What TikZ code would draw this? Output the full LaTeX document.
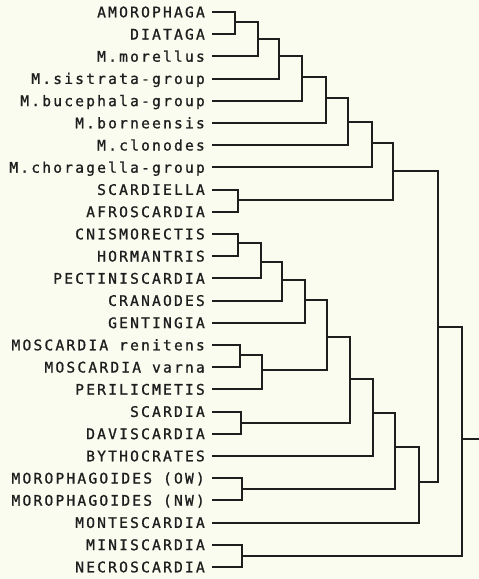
\documentclass[tikz,border=0pt]{standalone}
\usepackage{fontspec}
\newfontfamily\labfont[LetterSpace=15,FakeBold=1]{DejaVu Sans Mono}
\definecolor{bg}{RGB}{250,252,240}
\definecolor{ink}{RGB}{30,30,30}
\begin{document}
\begin{tikzpicture}[x=1pt,y=-1pt,
  lab/.style={anchor=east,inner sep=0pt,text=ink,font=\labfont\fontsize{14.6}{15}\selectfont,text height=10.6pt,text depth=0pt},
  branch/.style={draw=ink,line width=2pt,line join=miter}]
\fill[bg] (0,0) rectangle (479,579);
\useasboundingbox (0,0) rectangle (479,579);
\foreach \n [count=\i from 0] in {
 AMOROPHAGA,DIATAGA,M.morellus,M.sistrata-group,M.bucephala-group,M.borneensis,M.clonodes,M.choragella-group,SCARDIELLA,AFROSCARDIA,CNISMORECTIS,HORMANTRIS,PECTINISCARDIA,CRANAODES,GENTINGIA,MOSCARDIA renitens,MOSCARDIA varna,PERILICMETIS,SCARDIA,DAVISCARDIA,BYTHOCRATES,MOROPHAGOIDES (OW),MOROPHAGOIDES (NW),MONTESCARDIA,MINISCARDIA,NECROSCARDIA}{
  \pgfmathsetmacro\yy{12+22.2*\i}
  \node[lab] (n\i) at (205,\yy) {\n};
  \coordinate (L\i) at (212,\yy);
}
% internal nodes
\coordinate (A) at (235,22);
\coordinate (B) at (258,39);
\coordinate (C) at (279,56);
\coordinate (D) at (302,77);
\coordinate (E) at (326,98);
\coordinate (F) at (348,122);
\coordinate (G) at (372,143);
\coordinate (H) at (238,200);
\coordinate (I) at (393,171);
\coordinate (J) at (238,243);
\coordinate (K) at (261,262);
\coordinate (M) at (282,280);
\coordinate (N) at (305,300);
\coordinate (O) at (240,355);
\coordinate (P) at (262,370);
\coordinate (Q) at (327,337);
\coordinate (R) at (241,423);
\coordinate (S) at (350,379);
\coordinate (T) at (373,413);
\coordinate (U) at (242,489);
\coordinate (V) at (395,447);
\coordinate (W) at (419,482);
\coordinate (X) at (438,327);
\coordinate (Y) at (242,556);
\coordinate (Z) at (462,439);
\coordinate (end) at (479,439);
\foreach \c/\p in {L0/A,L1/A,A/B,L2/B,B/C,L3/C,C/D,L4/D,D/E,L5/E,E/F,L6/F,F/G,L7/G,
  L8/H,L9/H,G/I,H/I,L10/J,L11/J,J/K,L12/K,K/M,L13/M,M/N,L14/N,
  L15/O,L16/O,O/P,L17/P,N/Q,P/Q,L18/R,L19/R,Q/S,R/S,S/T,L20/T,
  L21/U,L22/U,T/V,U/V,V/W,L23/W,I/X,W/X,L24/Y,L25/Y,X/Z,Y/Z}{
  \draw[branch] (\c) -| (\p);
}
\draw[branch] (Z) -- (end);
\end{tikzpicture}
\end{document}
